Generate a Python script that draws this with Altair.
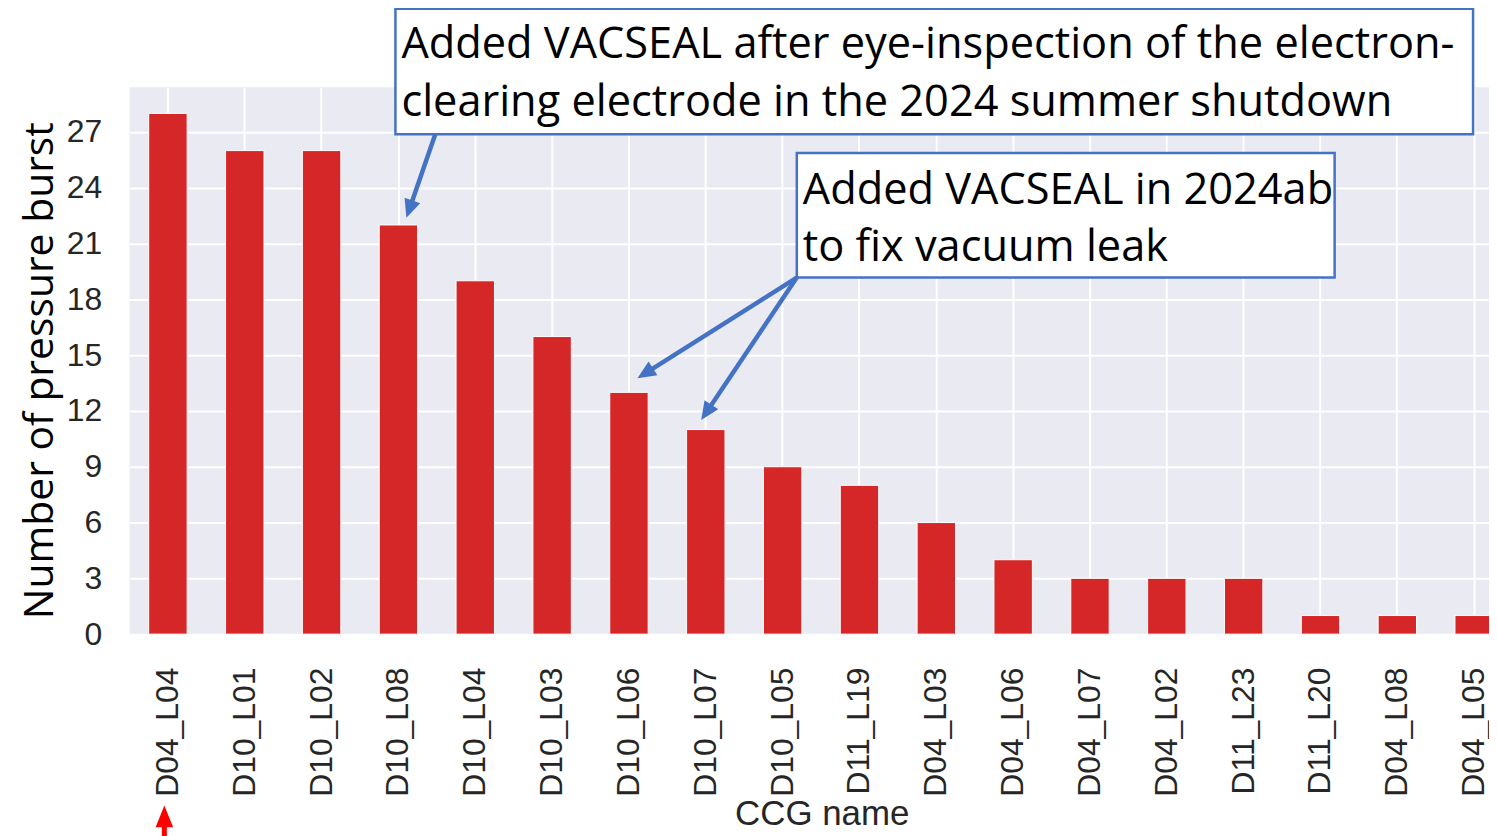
import math
import altair as alt
import pandas as pd

# ---- data ----
ccg_names = ["D04_L04", "D10_L01", "D10_L02", "D10_L08", "D10_L04", "D10_L03",
             "D10_L06", "D10_L07", "D10_L05", "D11_L19", "D04_L03", "D04_L06",
             "D04_L07", "D04_L02", "D11_L23", "D11_L20", "D04_L08", "D04_L05"]
burst_counts = [28, 26, 26, 22, 19, 16, 13, 11, 9, 8, 6, 4, 3, 3, 3, 1, 1, 1]
y_tick_values = [0, 3, 6, 9, 12, 15, 18, 21, 24, 27]

note1_lines = ["Added VACSEAL after eye-inspection of the electron-",
               "clearing electrode in the 2024 summer shutdown"]
note2_lines = ["Added VACSEAL in 2024ab", "to fix vacuum leak"]

# ---- layout (reference plot continues past the right edge; clip it there) ----
W, H = 1365, 549
STEP = 77.15
PAD = {"left": 122, "top": 78, "right": 0, "bottom": 201}
BLUE = "#4472C4"
ANN_FONT = "Open Sans"
ANN_SIZE = 43.5

df = pd.DataFrame({"ccg": ccg_names, "n": burst_counts})

bars = alt.Chart(df).mark_bar(
    color="#d62728", stroke="white", strokeWidth=1, clip=True
).encode(
    x=alt.X("ccg:N", sort=ccg_names,
            scale=alt.Scale(range=[0, STEP * len(ccg_names)],
                            paddingInner=0.5, paddingOuter=0.25, round=False),
            axis=alt.Axis(title="CCG name", labelAngle=270, labelPadding=33,
                          tickBand="center", grid=True,
                          titleFont="Liberation Sans", titleFontSize=35,
                          titleFontWeight="normal", titleColor="#262626",
                          titleX=695, titleY=191, titleAlign="center",
                          titleBaseline="alphabetic")),
    y=alt.Y("n:Q", scale=alt.Scale(domain=[0, 29.4], nice=False, zero=True),
            axis=alt.Axis(title="Number of pressure burst", values=y_tick_values,
                          labelPadding=28, grid=True,
                          titleFont=ANN_FONT, titleFontSize=41,
                          titleFontWeight="normal", titleColor="black",
                          titleAngle=270, titleX=-77, titleY=284,
                          titleAlign="center", titleBaseline="alphabetic")),
)

one = pd.DataFrame({"k": [0]})


def box(x0, x1, y0, y1):
    return alt.Chart(one).mark_rect(fill="white", stroke=BLUE, strokeWidth=2.5).encode(
        x=alt.value(x0), x2=alt.value(x1), y=alt.value(y0), y2=alt.value(y1))


def label(text, x, y):
    return alt.Chart(one).mark_text(
        text=text, align="left", baseline="alphabetic", font=ANN_FONT,
        fontSize=ANN_SIZE, color="black").encode(x=alt.value(x), y=alt.value(y))


def arrow(tail, tip, color, width, head_size, shape):
    dx, dy = tip[0] - tail[0], tip[1] - tail[1]
    length = math.hypot(dx, dy)
    ux, uy = dx / length, dy / length
    r = math.sqrt(head_size) / 2
    cx, cy = tip[0] - ux * r, tip[1] - uy * r
    ang = math.degrees(math.atan2(dx, -dy)) % 360
    shaft = alt.Chart(one).mark_rule(color=color, strokeWidth=width).encode(
        x=alt.value(tail[0]), y=alt.value(tail[1]),
        x2=alt.value(cx), y2=alt.value(cy))
    head = alt.Chart(one).mark_point(
        shape=shape, filled=True, fill=color, strokeWidth=0, opacity=1,
        size=head_size, angle=ang).encode(x=alt.value(cx), y=alt.value(cy))
    return [shaft, head]


layers = [bars,
          box(267, 1349, -79, 47),
          label(note1_lines[0], 273, -29),
          label(note1_lines[1], 273, 29),
          box(670, 1210, 66, 191),
          label(note2_lines[0], 676, 117),
          label(note2_lines[1], 676, 174)]

blue_head = "M0,-1L-0.9,1L0.9,1Z"
layers += arrow((307, 47), (278, 131), BLUE, 4.5, 340, blue_head)
layers += arrow((670, 191), (510, 292), BLUE, 4.5, 340, blue_head)
layers += arrow((670, 191), (574, 334), BLUE, 4.5, 340, blue_head)
layers += arrow((35, 760), (35, 721), "#ff0000", 5, 484, "M0,-1L-0.8,1L0.8,1Z")

chart = alt.layer(*layers).properties(
    width=W, height=H, padding=PAD,
    autosize=alt.AutoSizeParams(type="none"),
    background="white",
).configure_view(
    fill="#EAEAF2", strokeWidth=0
).configure_axis(
    domain=False, ticks=False, gridColor="white", gridWidth=2,
    labelFont="Liberation Sans", labelFontSize=32, labelColor="#262626",
)

chart.save("out.html", embed_options={"renderer": "svg", "actions": False})
